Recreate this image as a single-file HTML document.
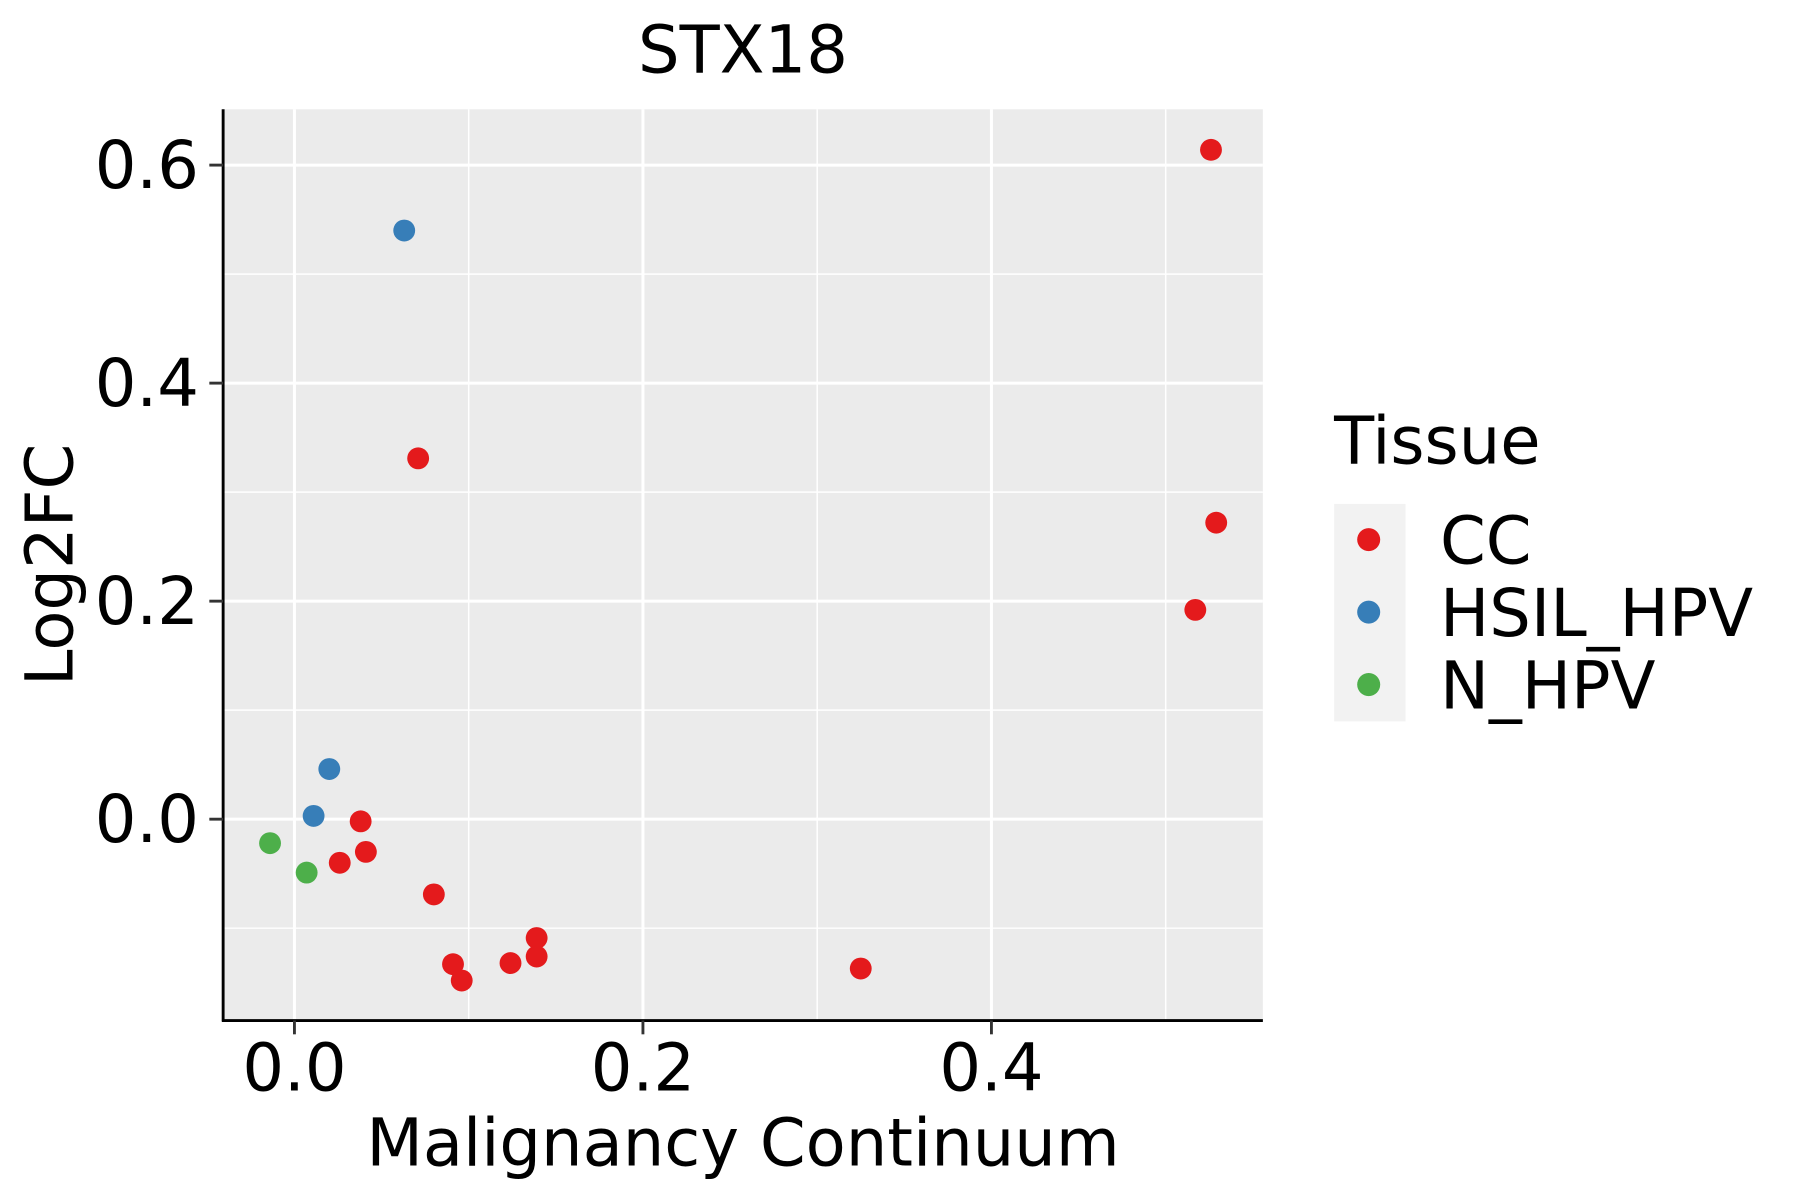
<!DOCTYPE html>
<html><head><meta charset="utf-8"><style>
html,body{margin:0;padding:0;background:#fff;}
svg{display:block;font-family:"DejaVu Sans","Liberation Sans",sans-serif;}
</style></head><body>
<svg id="chart" width="1800" height="1200" viewBox="0 0 1565 1043" preserveAspectRatio="none" xmlns="http://www.w3.org/2000/svg">
<rect x="0" y="0" width="1565" height="1043" fill="#fff"/>
<rect x="194" y="95" width="904" height="792" fill="#ebebeb"/>
<g id="grid"></g>
<g id="points"></g>
<line x1="194" y1="95" x2="194" y2="888" stroke="#000" stroke-width="2.5"/>
<line x1="193" y1="887" x2="1098" y2="887" stroke="#000" stroke-width="2.5"/>
<g id="ticks"></g>
<text x="646" y="63" font-size="57" text-anchor="middle">STX18</text>
<text x="646" y="1013" font-size="57" text-anchor="middle">Malignancy Continuum</text>
<text transform="translate(63,491) rotate(-90)" font-size="57" text-anchor="middle">Log2FC</text>
<g>
<text x="1160" y="403" font-size="57">Tissue</text>
<rect x="1160" y="438" width="62" height="189" fill="#f2f2f2"/>
<circle cx="1190" cy="469" r="10" fill="#e41a1c"/>
<circle cx="1190" cy="532" r="10" fill="#377eb8"/>
<circle cx="1190" cy="595" r="10" fill="#4daf4a"/>
<text x="1252" y="490" font-size="57">CC</text>
<text x="1252" y="553" font-size="57">HSIL_HPV</text>
<text x="1252" y="616" font-size="57">N_HPV</text>
</g>
</svg>
<script>
const ccX = [0.526,0.529,0.517,0.071,0.038,0.026,0.041,0.080,0.139,0.139,0.124,0.091,0.096,0.325];
const ccY = [0.614,0.272,0.192,0.331,-0.002,-0.040,-0.030,-0.069,-0.109,-0.126,-0.132,-0.133,-0.148,-0.137];
const hsilX = [0.063,0.020,0.011];
const hsilY = [0.540,0.046,0.003];
const nX = [-0.014,0.007];
const nY = [-0.022,-0.049];
const xTicks = [0.0,0.2,0.4];
const xTickLabels = ["0.0","0.2","0.4"];
const yTicks = [0.0,0.2,0.4,0.6];
const yTickLabels = ["0.0","0.2","0.4","0.6"];
const xMinor = [0.1,0.3,0.5];
const yMinor = [-0.1,0.1,0.3,0.5];

const NS="http://www.w3.org/2000/svg";
function sx(v){return 256+v*1515;}
function sy(v){return 712-v*947.5;}
function mk(tag,attrs,parent){const e=document.createElementNS(NS,tag);for(const k in attrs)e.setAttribute(k,attrs[k]);parent.appendChild(e);return e;}
const grid=document.getElementById('grid'),pts=document.getElementById('points'),ticks=document.getElementById('ticks');
xMinor.forEach(v=>{const l=mk('line',{x1:sx(v),x2:sx(v),y1:95,y2:887,stroke:'#fff','stroke-width':1.3},grid);

});
yMinor.forEach(v=>{const l=mk('line',{x1:194,x2:1098,y1:sy(v),y2:sy(v),stroke:'#fff','stroke-width':1.3},grid);

});
xTicks.forEach((v,i)=>{const l=mk('line',{x1:sx(v),x2:sx(v),y1:95,y2:887,stroke:'#fff','stroke-width':2.6},grid);


const t=mk('line',{x1:sx(v),x2:sx(v),y1:887,y2:899,stroke:'#333','stroke-width':2.5},ticks);


const tx=mk('text',{x:sx(v),y:948,'font-size':57,'text-anchor':'middle',fill:'#000'},ticks);tx.textContent=xTickLabels[i];

});
yTicks.forEach((v,i)=>{const l=mk('line',{x1:194,x2:1098,y1:sy(v),y2:sy(v),stroke:'#fff','stroke-width':2.6},grid);


const t=mk('line',{x1:182,x2:194,y1:sy(v),y2:sy(v),stroke:'#333','stroke-width':2.5},ticks);


const tx=mk('text',{x:173,y:sy(v)+20,'font-size':57,'text-anchor':'end',fill:'#000'},ticks);tx.textContent=yTickLabels[i];

});
function series(xs,ys,color,name){xs.forEach((x,i)=>{const c=mk('circle',{cx:sx(x),cy:sy(ys[i]),r:9.5,fill:color},pts);

});}
series(ccX,ccY,'#e41a1c','point-cc');
series(hsilX,hsilY,'#377eb8','point-hsil-hpv');
series(nX,nY,'#4daf4a','point-n-hpv');
</script>
</body></html>
